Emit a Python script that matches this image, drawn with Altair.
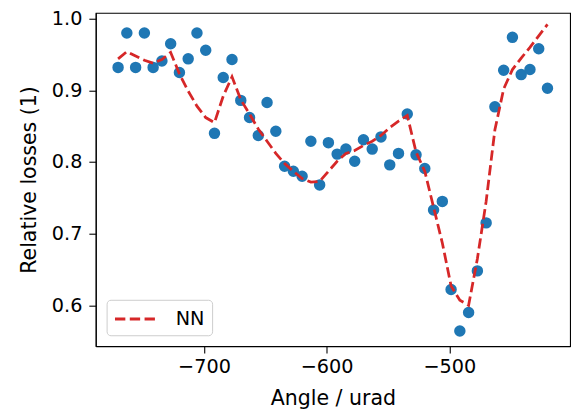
import altair as alt
import pandas as pd

angles = [-770.0, -762.86, -755.71, -748.57, -741.43, -734.29, -727.14, -720.0, -712.86, -705.71,
          -698.57, -691.43, -684.29, -677.14, -670.0, -662.86, -655.71, -648.57, -641.43, -634.29,
          -627.14, -620.0, -612.86, -605.71, -598.57, -591.43, -584.29, -577.14, -570.0, -562.86,
          -555.71, -548.57, -541.43, -534.29, -527.14, -520.0, -512.86, -505.71, -498.57, -491.43,
          -484.29, -477.14, -470.0, -462.86, -455.71, -448.57, -441.43, -434.29, -427.14, -420.0]

measured = [0.932, 0.980, 0.932, 0.980, 0.932, 0.941, 0.965, 0.925, 0.944, 0.980,
            0.956, 0.840, 0.918, 0.943, 0.886, 0.862, 0.837, 0.883, 0.843, 0.794,
            0.787, 0.780, 0.829, 0.768, 0.827, 0.811, 0.818, 0.801, 0.831, 0.818,
            0.835, 0.796, 0.812, 0.867, 0.810, 0.791, 0.733, 0.745, 0.622, 0.564,
            0.590, 0.648, 0.715, 0.877, 0.928, 0.974, 0.922, 0.929, 0.958, 0.903]

nn = [0.944, 0.954, 0.948, 0.942, 0.938, 0.943, 0.953, 0.923, 0.899, 0.878,
      0.862, 0.855, 0.892, 0.919, 0.887, 0.867, 0.846, 0.829, 0.812, 0.798,
      0.787, 0.777, 0.772, 0.773, 0.787, 0.801, 0.812, 0.816, 0.823, 0.829,
      0.837, 0.848, 0.857, 0.865, 0.814, 0.787, 0.737, 0.687, 0.627, 0.607,
      0.600, 0.665, 0.745, 0.845, 0.902, 0.929, 0.945, 0.960, 0.976, 0.992]

series_name = ["NN"]
x_ticks = [-700, -600, -500]
y_ticks = [0.6, 0.7, 0.8, 0.9, 1.0]

df = pd.DataFrame({"angle": angles, "measured": measured, "nn": nn,
                   "series": series_name * len(angles)})

x_enc = alt.X("angle:Q", scale=alt.Scale(domain=[-788.2, -401.6], nice=False, zero=False),
              axis=alt.Axis(values=x_ticks, title="Angle / urad",
                            labelExpr="replace(format(datum.value, 'd'), '-', '\u2212')"))
y_scale = alt.Scale(domain=[0.543, 1.0082], nice=False, zero=False)

points = alt.Chart(df).mark_circle(size=135, opacity=1, color="#1f77b4").encode(
    x=x_enc,
    y=alt.Y("measured:Q", scale=y_scale,
            axis=alt.Axis(values=y_ticks, format=".1f", title="Relative losses (1)")),
)

line = alt.Chart(df).mark_line(strokeDash=[10.5, 4.5], strokeWidth=2.8).encode(
    x="angle:Q",
    y=alt.Y("nn:Q", scale=y_scale),
    color=alt.Color("series:N",
                    scale=alt.Scale(domain=series_name, range=["#d62728"]),
                    legend=alt.Legend(title=None, orient="bottom-left", offset=11,
                                      symbolType="M-1,0H3", symbolDash=[10.5, 4.5],
                                      symbolStrokeWidth=2.8, symbolSize=484,
                                      labelFontSize=19.5, labelFont="DejaVu Sans",
                                      labelColor="black", labelOffset=38,
                                      padding=7, cornerRadius=4,
                                      strokeColor="#cccccc",
                                      fillColor="rgba(255,255,255,0.8)")),
)

chart = alt.layer(points, line).properties(
    width=481, height=338,
    autosize=alt.AutoSizeParams(type="none"),
    padding={"left": 89, "top": 2, "right": 4, "bottom": 70},
).configure(font="DejaVu Sans").configure_view(
    stroke="black", strokeWidth=1.1
).configure_axis(
    grid=False, domainColor="black", domainWidth=1.1, tickColor="black", tickWidth=1.1,
    tickSize=7, labelColor="black", titleColor="black", labelFontSize=19.5, titleFontSize=20.8,
    titleFontWeight="normal", labelFont="DejaVu Sans", titleFont="DejaVu Sans"
).configure_axisX(labelPadding=5, titlePadding=13).configure_axisY(labelPadding=7, titlePadding=12)

chart.save("out.html", embed_options={"renderer": "svg", "actions": False})
